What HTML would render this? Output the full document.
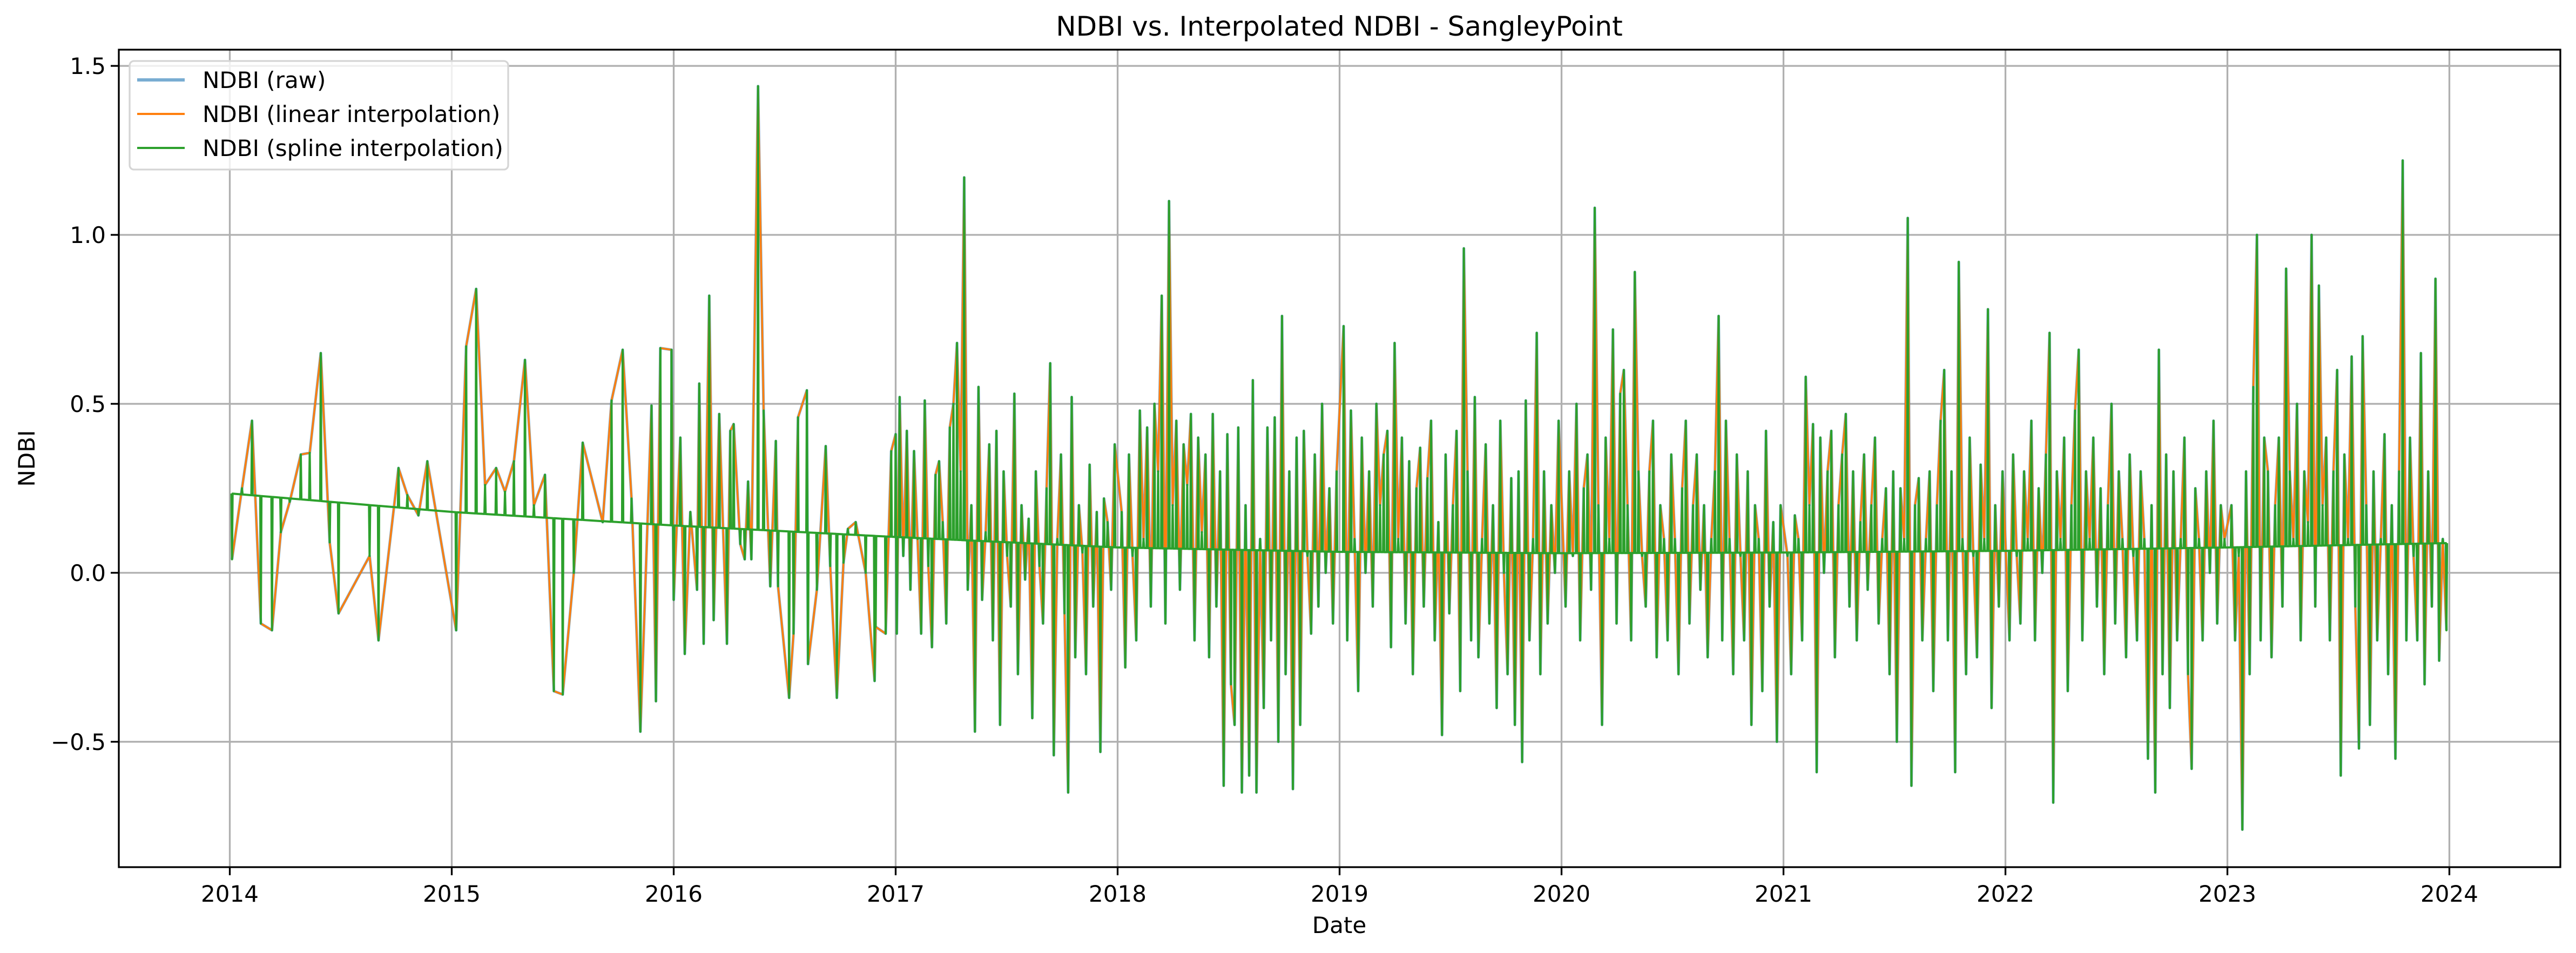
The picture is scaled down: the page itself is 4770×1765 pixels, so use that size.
<!DOCTYPE html>
<html><head><meta charset="utf-8"><style>
html,body{margin:0;padding:0;background:#fff}
svg{display:block}
text{font-family:"DejaVu Sans","Liberation Sans",sans-serif;fill:#000}
</style></head><body>
<svg id="chart" width="4770" height="1765" viewBox="0 0 4770 1765" xmlns="http://www.w3.org/2000/svg">
<g id="grid"></g>
<g id="series"></g>
<rect x="220" y="92" width="4521" height="1514" fill="none" stroke="#000" stroke-width="3.3"/>
<g id="ticks"></g>
<text x="2480" y="66" font-size="50" text-anchor="middle">NDBI vs. Interpolated NDBI - SangleyPoint</text>
<text x="2480" y="1728" font-size="42" text-anchor="middle">Date</text>
<text x="64" y="849" font-size="42" text-anchor="middle" transform="rotate(-90 64 849)">NDBI</text>
<g>
<rect x="240" y="113" width="701" height="201" rx="8" fill="#fff" fill-opacity="0.8" stroke="#d5d5d5" stroke-width="3.3"/>
<line x1="254" y1="148" x2="342" y2="148" stroke="#1f77b4" stroke-opacity="0.6" stroke-width="6"/>
<text x="375" y="163" font-size="42">NDBI (raw)</text>
<line x1="254" y1="211" x2="342" y2="211" stroke="#ff7f0e" stroke-width="4"/>
<text x="375" y="226" font-size="42">NDBI (linear interpolation)</text>
<line x1="254" y1="274" x2="342" y2="274" stroke="#2ca02c" stroke-width="4"/>
<text x="375" y="289" font-size="42">NDBI (spline interpolation)</text>
</g>
</svg>
<script>
const xTickLabels=["2014","2015","2016","2017","2018","2019","2020","2021","2022","2023","2024"];
const yTickValues=[1.5,1.0,0.5,0.0,-0.5];
const yTickLabels=["1.5","1.0","0.5","0.0","\u22120.5"];
const trendYears=[2014,2015,2016,2017,2018,2019,2020,2021,2022,2023,2024];
const trendValues=[0.235,0.18,0.14,0.106,0.075,0.062,0.058,0.06,0.065,0.075,0.088];
const earlyDates=[2014.01,2014.055,2014.10,2014.14,2014.19,2014.23,2014.27,2014.32,2014.36,2014.41,2014.45,2014.49,2014.63,2014.67,2014.76,2014.80,2014.85,2014.89,2015.02,2015.065,2015.11,2015.15,2015.20,2015.24,2015.28,2015.33,2015.37,2015.42,2015.46,2015.50,2015.55,2015.59,2015.68,2015.72,2015.77,2015.81,2015.85,2015.90,2015.92,2015.94,2015.99,2016.0,2016.03,2016.05,2016.075,2016.105,2016.115,2016.135,2016.16,2016.18,2016.205,2016.24,2016.255,2016.27,2016.30,2016.32,2016.335,2016.35,2016.38,2016.405,2016.435,2016.46,2016.47,2016.52,2016.54,2016.56,2016.60,2016.605,2016.645,2016.685,2016.705,2016.735,2016.765,2016.785,2016.82,2016.865,2016.905,2016.91,2016.955,2016.98,2017.0,2017.005];
const earlyValues=[0.04,0.25,0.45,-0.15,-0.17,0.12,0.21,0.35,0.355,0.65,0.09,-0.12,0.05,-0.20,0.31,0.23,0.17,0.33,-0.17,0.67,0.84,0.26,0.31,0.24,0.33,0.63,0.20,0.29,-0.35,-0.36,0.0,0.385,0.15,0.51,0.66,0.22,-0.47,0.495,-0.38,0.665,0.66,-0.08,0.40,-0.24,0.18,-0.05,0.56,-0.21,0.82,-0.14,0.47,-0.21,0.42,0.44,0.085,0.04,0.27,0.04,1.44,0.48,-0.04,0.39,-0.04,-0.37,-0.18,0.46,0.54,-0.27,-0.05,0.375,0.02,-0.37,0.03,0.13,0.15,0.0,-0.32,-0.16,-0.18,0.36,0.41,-0.18];
const v2017=[0.52,0.05,0.42,-0.05,0.36,0.1,-0.18,0.51,0.02,-0.22,0.29,0.33,0.15,-0.15,0.43,0.5,0.68,0.3,1.17,-0.05,0.2,-0.47,0.55,-0.08,0.12,0.38,-0.2,0.42,-0.45,0.3,0.05,-0.1,0.53,-0.3,0.2,-0.02,0.16,-0.43,0.3,0.02,-0.15,0.25,0.62,-0.54,0.1,0.35,-0.12,-0.65,0.52,-0.25,0.2,0.06,-0.3,0.32,-0.1,0.18,-0.53,0.22,0.15,-0.05,0.38];
const v2018=[0.18,-0.28,0.35,0.05,-0.2,0.48,0.1,0.43,-0.1,0.5,0.3,0.82,-0.15,1.1,0.2,0.45,-0.05,0.38,0.26,0.47,-0.2,0.4,0.12,0.35,-0.25,0.47,-0.1,0.3,-0.63,0.41,-0.33,-0.45,0.43,-0.65,0.2,-0.6,0.57,-0.65,0.1,-0.4,0.43,-0.2,0.46,-0.5,0.76,-0.3,0.3,-0.64,0.4,-0.45,0.42,0.05,-0.18,0.35,-0.1,0.5,0.0,0.25,-0.15,0.3];
const v2019=[0.73,-0.2,0.48,0.1,-0.35,0.4,0.0,0.3,-0.1,0.5,0.2,0.35,0.42,-0.22,0.68,0.1,0.4,-0.15,0.33,-0.3,0.25,0.37,-0.1,0.28,0.45,-0.2,0.15,-0.48,0.35,-0.12,0.2,0.42,-0.35,0.96,0.3,-0.2,0.52,-0.25,0.1,0.38,-0.15,0.2,-0.4,0.45,0.0,-0.3,0.28,-0.45,0.3,-0.56,0.51,-0.2,0.1,0.71,-0.3,0.3,-0.15,0.2,0.0,0.45];
const v2020=[-0.1,0.3,0.05,0.5,-0.2,0.25,0.35,-0.05,1.08,0.2,-0.45,0.4,0.1,0.72,-0.15,0.53,0.6,0.2,-0.2,0.89,0.3,0.05,-0.1,0.3,0.45,-0.25,0.2,0.1,-0.2,0.35,0.1,-0.3,0.25,0.45,-0.15,0.2,0.35,-0.05,0.2,-0.25,0.1,0.3,0.76,-0.2,0.45,0.1,-0.3,0.35,0.05,-0.2,0.3,-0.45,0.2,0.1,-0.35,0.42,-0.1,0.15,-0.5,0.2];
const v2021=[0.05,-0.3,0.17,0.1,-0.2,0.58,0.2,0.44,-0.59,0.4,0.0,0.3,0.42,-0.25,0.2,0.35,0.47,-0.1,0.3,-0.2,0.15,0.35,-0.05,0.2,0.4,-0.15,0.1,0.25,-0.3,0.3,-0.5,0.25,0.1,1.05,-0.63,0.2,0.28,-0.2,0.1,0.3,-0.35,0.2,0.45,0.6,-0.2,0.3,-0.59,0.92,0.1,-0.3,0.4,0.05,-0.25,0.32,0.1,0.78,-0.4,0.2,-0.1,0.3];
const v2022=[-0.2,0.35,0.05,-0.15,0.3,0.1,0.45,-0.2,0.25,0.0,0.35,0.71,-0.68,0.3,0.1,0.4,-0.35,0.2,0.48,0.66,-0.2,0.3,0.1,0.4,-0.1,0.25,-0.3,0.2,0.5,-0.15,0.3,0.1,-0.25,0.35,0.05,-0.2,0.3,0.1,-0.55,0.2,-0.65,0.66,-0.3,0.35,-0.4,0.3,-0.2,0.1,0.4,-0.3,-0.58,0.25,0.1,-0.2,0.3,0.0,0.45,-0.15,0.2,0.1];
const v2023=[0.2,-0.2,0.05,-0.76,0.3,-0.3,0.55,1.0,-0.2,0.4,0.3,-0.25,0.2,0.4,-0.1,0.9,0.3,0.1,0.5,-0.2,0.3,0.15,1.0,-0.1,0.85,0.2,0.4,-0.2,0.3,0.6,-0.6,0.35,0.1,0.64,-0.1,-0.52,0.7,0.2,-0.45,0.3,-0.2,0.1,0.41,-0.3,0.2,-0.55,0.3,1.22,-0.2,0.4,0.05,-0.2,0.65,-0.33,0.3,-0.1,0.87,-0.26,0.1,-0.17];
const laterYears=[2017,2018,2019,2020,2021,2022,2023];
const laterValues=[v2017,v2018,v2019,v2020,v2021,v2022,v2023];

const NS="http://www.w3.org/2000/svg";
const L=220,R=4741,T=92,B=1606;
const X0=2013.5,X1=2024.5,Y0=-0.871,Y1=1.548;
const xs=d=>L+(d-X0)/(X1-X0)*(R-L);
const ys=v=>B-(v-Y0)/(Y1-Y0)*(B-T);
function trend(d){
  if(d<=trendYears[0])return trendValues[0];
  for(let i=1;i<trendYears.length;i++){if(d<=trendYears[i]){const t=(d-trendYears[i-1])/(trendYears[i]-trendYears[i-1]);return trendValues[i-1]+t*(trendValues[i]-trendValues[i-1]);}}
  return trendValues[trendValues.length-1];
}
function mk(tag,attrs,parent){const e=document.createElementNS(NS,tag);for(const k in attrs)e.setAttribute(k,attrs[k]);parent.appendChild(e);return e;}
const grid=document.getElementById('grid'),ticks=document.getElementById('ticks'),series=document.getElementById('series');
xTickLabels.forEach((lab)=>{
  const x=xs(+lab);
  const g=mk('line',{x1:x,y1:T,x2:x,y2:B,stroke:'#b0b0b0','stroke-width':3.3},grid);
  
  
  const t=mk('line',{x1:x,y1:B,x2:x,y2:B+15,stroke:'#000','stroke-width':3.3},ticks);
  
  
  const tx=mk('text',{x:x,y:B+64,'font-size':42,'text-anchor':'middle'},ticks);
  tx.textContent=lab;
  
  
});
yTickValues.forEach((v,i)=>{
  const y=ys(v);
  const g=mk('line',{x1:L,y1:y,x2:R,y2:y,stroke:'#b0b0b0','stroke-width':3.3},grid);
  
  
  const t=mk('line',{x1:L-15,y1:y,x2:L,y2:y,stroke:'#000','stroke-width':3.3},ticks);
  
  
  const tx=mk('text',{x:L-24,y:y+15,'font-size':42,'text-anchor':'end'},ticks);
  tx.textContent=yTickLabels[i];
  
  
});
// assemble observations
const obsD=earlyDates.slice(),obsV=earlyValues.slice();
laterYears.forEach((yr,k)=>{const arr=laterValues[k];const n=arr.length;arr.forEach((v,i)=>{const d=yr+0.01+(i+0.5)/n*0.985;obsD.push(d);obsV.push(v);});});
let lin='';obsD.forEach((d,i)=>{lin+=(i?'L':'M')+xs(d).toFixed(1)+' '+ys(obsV[i]).toFixed(1);});
const raw=mk('path',{d:lin,fill:'none',stroke:'#1f77b4','stroke-opacity':0.6,'stroke-width':5,'stroke-linejoin':'round'},series);


const linear=mk('path',{d:lin,fill:'none',stroke:'#ff7f0e','stroke-width':3.5,'stroke-linejoin':'round'},series);


const dd=0.0027;
let sp='M'+xs(obsD[0]-dd).toFixed(1)+' '+ys(trend(obsD[0]-dd)).toFixed(1);
obsD.forEach((d,i)=>{
  sp+='L'+xs(d-dd).toFixed(1)+' '+ys(trend(d-dd)).toFixed(1);
  sp+='L'+xs(d).toFixed(1)+' '+ys(obsV[i]).toFixed(1);
  sp+='L'+xs(d+dd).toFixed(1)+' '+ys(trend(d+dd)).toFixed(1);
});
const spline=mk('path',{d:sp,fill:'none',stroke:'#2ca02c','stroke-width':4,'stroke-linejoin':'round'},series);


</script>
</body></html>
